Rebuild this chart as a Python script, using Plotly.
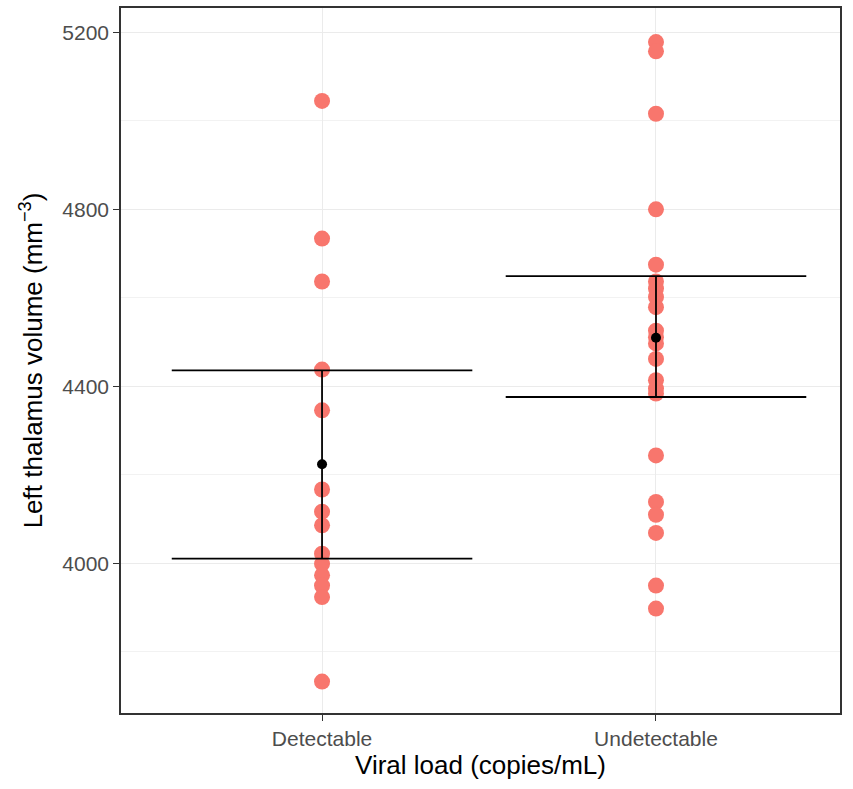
import plotly.graph_objects as go

# Group labels and individual left thalamus volumes (mm^3)
groups = ["Detectable", "Undetectable"]
detectable = [5045, 4734, 4637, 4438, 4346, 4167, 4117, 4086, 4022, 3999,
              3973, 3950, 3924, 3733]
undetectable = [5178, 5157, 5016, 4800, 4675, 4637, 4621, 4602, 4579, 4526,
                4511, 4497, 4462, 4414, 4395, 4384, 4244, 4139, 4110, 4069,
                3950, 3898]

# Group means with 95% confidence limits
group_mean = [4224, 4510]
ci_lower = [4011, 4376]
ci_upper = [4436, 4649]

y_ticks = [4000, 4400, 4800, 5200]

POINT_COLOR = "#F8766D"
CAP_HALF = 0.45

fig = go.Figure()

# individual observations
for i, vals in enumerate([detectable, undetectable]):
    fig.add_trace(go.Scatter(
        x=[i] * len(vals), y=vals, mode="markers",
        marker=dict(color=POINT_COLOR, size=16, line=dict(width=0)),
        showlegend=False, hoverinfo="y",
    ))

# confidence interval bars with wide caps
for i in range(len(groups)):
    xs = [i, i, None, i - CAP_HALF, i + CAP_HALF, None, i - CAP_HALF, i + CAP_HALF]
    ys = [ci_lower[i], ci_upper[i], None, ci_upper[i], ci_upper[i], None,
          ci_lower[i], ci_lower[i]]
    fig.add_trace(go.Scatter(
        x=xs, y=ys, mode="lines",
        line=dict(color="black", width=1.8),
        showlegend=False, hoverinfo="skip",
    ))

# group means
fig.add_trace(go.Scatter(
    x=list(range(len(groups))), y=group_mean, mode="markers",
    marker=dict(color="black", size=10),
    showlegend=False, hoverinfo="y",
))

tick_font = dict(family="Liberation Sans, Arial, sans-serif", size=21, color="#4D4D4D")
title_font = dict(family="Liberation Sans, Arial, sans-serif", size=26, color="black")

fig.update_layout(
    width=853, height=789,
    margin=dict(l=121, r=13, t=8, b=76, autoexpand=False),
    paper_bgcolor="white", plot_bgcolor="white",
    xaxis=dict(
        range=[-0.602, 1.551],
        tickmode="array", tickvals=list(range(len(groups))), ticktext=groups,
        tickfont=tick_font,
        ticks="outside", ticklen=6, tickwidth=1.2, tickcolor="#333333",
        showgrid=True, gridcolor="#EBEBEB", gridwidth=1.3,
        showline=True, linecolor="#333333", linewidth=1.5, mirror=True,
        zeroline=False,
        title=dict(text="Viral load (copies/mL)", font=title_font, standoff=6),
    ),
    yaxis=dict(
        range=[3662, 5255],
        tickmode="array", tickvals=y_ticks,
        tickfont=tick_font,
        ticks="outside", ticklen=6, tickwidth=1.2, tickcolor="#333333",
        showgrid=True, gridcolor="#EBEBEB", gridwidth=1.3,
        minor=dict(dtick=200, tick0=3800, showgrid=True,
                   gridcolor="#F2F2F2", gridwidth=0.8, ticks=""),
        showline=True, linecolor="#333333", linewidth=1.5, mirror=True,
        zeroline=False,
        title=dict(text="Left thalamus volume (mm<sup>−3</sup>)",
                   font=title_font, standoff=12),
    ),
)

fig.write_html("out.html")
